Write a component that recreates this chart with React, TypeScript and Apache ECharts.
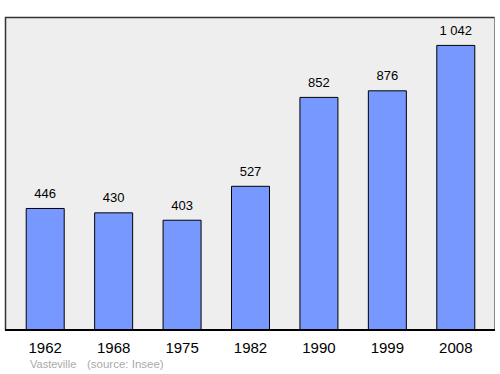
import React, { useEffect, useRef } from "react";
import * as echarts from "echarts";

const categories = ["1962", "1968", "1975", "1982", "1990", "1999", "2008"];
const values = [446, 430, 403, 527, 852, 876, 1042];
const valueLabels = ["446", "430", "403", "527", "852", "876", "1 042"];

export default function App() {
  const ref = useRef<HTMLDivElement>(null);
  useEffect(() => {
    const chart = echarts.init(ref.current!, null, { renderer: "svg" });
    chart.setOption({
      animation: false,
      backgroundColor: "#ffffff",
      graphic: [
        {
          type: "rect",
          z: -10,
          shape: { x: 5.5, y: 17.5, width: 489, height: 313 },
          style: { fill: "#eeeeee", stroke: "#888888", lineWidth: 1 },
        },
        {
          type: "polyline",
          z: -9,
          shape: { points: [[5.5, 330], [5.5, 17.5], [494.5, 17.5]] },
          style: { stroke: "#333333", lineWidth: 1.5, fill: "none" },
        },
        {
          type: "line",
          z: 10,
          shape: { x1: 5, y1: 330, x2: 495, y2: 330 },
          style: { stroke: "#000000", lineWidth: 2 },
        },
        {
          type: "text",
          x: 30,
          y: 364,
          style: {
            text: "Vasteville",
            fill: "#aaaaaa",
            font: "11px 'Liberation Sans', Arial, sans-serif",
            verticalAlign: "middle",
          },
        },
        {
          type: "text",
          x: 87,
          y: 364,
          style: {
            text: "(source: Insee)",
            fill: "#aaaaaa",
            font: "11.5px 'Liberation Sans', Arial, sans-serif",
            verticalAlign: "middle",
          },
        },
      ],
      grid: { left: 11, right: 10, top: 17, bottom: 44, containLabel: false },
      xAxis: {
        type: "category",
        data: categories,
        axisLine: { show: false },
        axisTick: { show: false },
        axisLabel: {
          color: "#000000",
          fontSize: 15,
          fontFamily: "'Liberation Sans', Arial, sans-serif",
          margin: 10,
        },
      },
      yAxis: {
        type: "value",
        min: 0,
        max: 1144,
        show: false,
        splitLine: { show: false },
      },
      series: [
        {
          type: "bar",
          data: values,
          barWidth: 39,
          itemStyle: { color: "#7799ff", borderColor: "#000000", borderWidth: 1 },
          label: {
            show: true,
            position: "top",
            distance: 8,
            color: "#000000",
            fontSize: 13,
            fontFamily: "'Liberation Sans', Arial, sans-serif",
            formatter: (p: any) => valueLabels[p.dataIndex],
          },
        },
      ],
    });
    return () => chart.dispose();
  }, []);
  return <div ref={ref} style={{ width: 500, height: 374, position: "absolute", left: 0, top: 0 }} />;
}
